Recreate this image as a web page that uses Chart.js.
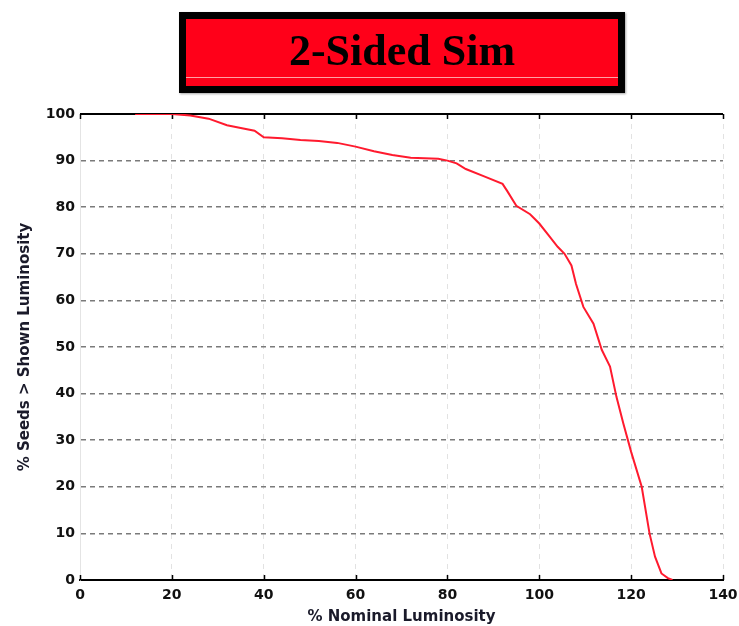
<!DOCTYPE html>
<html>
<head>
<meta charset="utf-8">
<script src="https://cdn.jsdelivr.net/npm/chart.js@4.4.1/dist/chart.umd.min.js"></script>
<style>
  body { margin: 0; background: #fff; }
  #wrap { position: relative; width: 739px; height: 626px; }
  #titleBox {
    position: absolute; left: 179px; top: 12px; width: 446px; height: 81px;
    box-sizing: border-box; border: 7px solid #000; background: #ff0019;
    box-shadow: 1px 1px 2px rgba(0,0,0,0.35);
    font: bold 44px "Liberation Serif", "DejaVu Serif", serif; color: #000;
    text-align: center; line-height: 64px;
  }
  #titleBox:after {
    content: ""; position: absolute; left: 0; right: 0; top: 58px; height: 1px;
    background: rgba(255,200,200,0.8);
  }
</style>
</head>
<body>
<div id="wrap">
  <canvas id="myChart"></canvas>
  <div id="titleBox">2-Sided Sim</div>
</div>
<script>
// % nominal luminosity vs % of seeds above it
const lumX = [12, 20, 24, 28, 32, 35, 38, 40, 44, 48, 52, 56, 60, 64, 68, 72, 78, 80, 82, 84, 88, 92,
  93, 95, 98, 100, 102, 104, 105.5, 107, 108, 109.6, 111.8, 113.6, 115.4, 116.8, 118.3, 120, 122.3,
  124, 125.2, 126.6, 128, 129];
const seedsPct = [100, 100, 99.7, 99, 97.6, 97, 96.4, 95, 94.8, 94.4, 94.2, 93.8, 93, 92, 91.2, 90.6,
  90.4, 90, 89.4, 88.2, 86.6, 85, 83.5, 80.3, 78.5, 76.5, 74, 71.5, 70, 67.5, 63.5, 58.6, 55, 49.4,
  45.8, 39.3, 33.6, 27.5, 20, 10, 5, 1.4, 0.4, 0];
const xTicks = [0, 20, 40, 60, 80, 100, 120, 140];
const yTicks = [0, 10, 20, 30, 40, 50, 60, 70, 80, 90, 100];

const points = lumX.map((x, i) => ({ x: x, y: seedsPct[i] }));

// top frame line plus inward tick marks on top and bottom
const frameTicks = {
  id: 'frameTicks',
  beforeDatasetsDraw(chart) {
    const { ctx, chartArea: a, scales: { x } } = chart;
    ctx.save();
    ctx.strokeStyle = '#000';
    ctx.lineWidth = 2;
    ctx.beginPath();
    ctx.moveTo(a.left, a.top);
    ctx.lineTo(a.right, a.top);
    ctx.stroke();
    ctx.lineWidth = 1.5;
    xTicks.forEach(v => {
      const px = Math.round(x.getPixelForValue(v)) + 0.5;
      ctx.beginPath();
      ctx.moveTo(px, a.top);
      ctx.lineTo(px, a.top + 5);
      ctx.moveTo(px, a.bottom);
      ctx.lineTo(px, a.bottom - 5);
      ctx.stroke();
    });
    ctx.restore();
  }
};

const tickFont = { family: 'DejaVu Sans, sans-serif', size: 14, weight: 'bold' };
const titleFont = { family: 'DejaVu Sans, sans-serif', size: 15, weight: 'bold' };

new Chart(document.getElementById('myChart'), {
  type: 'scatter',
  data: {
    datasets: [{
      data: points,
      showLine: true,
      borderColor: '#ff1a2e',
      borderWidth: 2,
      pointRadius: 0,
      tension: 0
    }]
  },
  options: {
    responsive: true,
    maintainAspectRatio: false,
    animation: false,
    layout: { padding: { left: 0, top: 114, right: 16, bottom: 0 } },
    plugins: { legend: { display: false }, tooltip: { enabled: false } },
    scales: {
      x: {
        type: 'linear', min: 0, max: 140,
        afterBuildTicks: s => { s.ticks = xTicks.map(v => ({ value: v })); },
        afterFit: s => { s.height = 46; s.paddingLeft = 0; s.paddingRight = 0; },
        ticks: { color: '#111', font: tickFont, padding: 7, maxRotation: 0 },
        grid: { color: '#e2e2e2', lineWidth: 1, drawTicks: false },
        border: { display: true, color: '#000', width: 2, dash: [5, 5] },
        title: { display: true, text: '% Nominal Luminosity', color: '#1a1a2a', font: titleFont, padding: { top: 0, bottom: 0 } }
      },
      y: {
        type: 'linear', min: 0, max: 100,
        afterBuildTicks: s => { s.ticks = yTicks.map(v => ({ value: v })); },
        afterFit: s => { s.width = 80; s.paddingTop = 0; s.paddingBottom = 0; },
        ticks: { color: '#111', font: tickFont, padding: 5 },
        grid: { color: '#7a7a7a', lineWidth: 1.6, drawTicks: false },
        border: { display: true, color: '#e4e4e4', width: 1, dash: [5, 4] },
        title: { display: true, text: '% Seeds > Shown Luminosity', color: '#1a1a2a', font: titleFont, padding: { top: 16, bottom: 0 } }
      }
    }
  },
  plugins: [frameTicks]
});
</script>
</body>
</html>
